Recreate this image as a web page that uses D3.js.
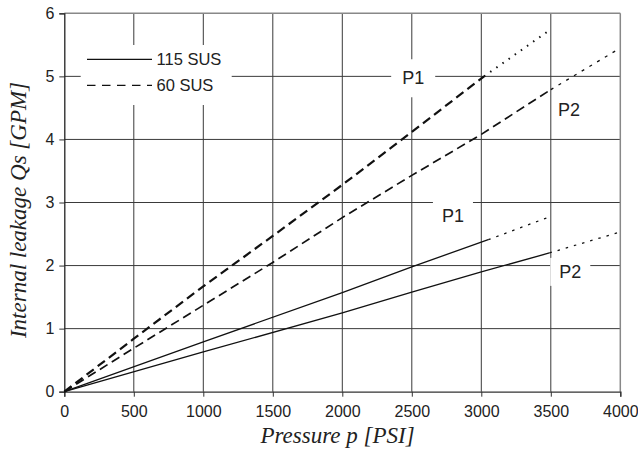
<!DOCTYPE html>
<html><head><meta charset="utf-8">
<script src="https://cdn.jsdelivr.net/npm/d3@7"></script>
<style>body{margin:0;background:#fff}</style>
</head><body>
<svg id="c" width="638" height="452"></svg>
<script>
// ---- data ----
const xTicks = [0,500,1000,1500,2000,2500,3000,3500,4000];
const yTicks = [0,1,2,3,4,5,6];
// 60 SUS, P1 (heavy dashed) and its dotted extension
const sus60P1 = [[0,0],[500,0.84],[1000,1.67],[1500,2.47],[2000,3.28],[2500,4.12],[3020,5.0]];
const sus60P1Ext = [[3020,5.0],[3490,5.73]];
// 60 SUS, P2
const sus60P2 = [[0,0],[500,0.69],[1000,1.37],[1500,2.05],[2000,2.76],[2500,3.43],[3000,4.08],[3500,4.79]];
const sus60P2Ext = [[3500,4.79],[4000,5.45]];
// 115 SUS, P1
const sus115P1 = [[0,0],[1000,0.79],[2000,1.57],[2500,1.98],[3050,2.41]];
const sus115P1Ext = [[3050,2.41],[3500,2.78]];
// 115 SUS, P2
const sus115P2 = [[0,0],[1000,0.63],[2000,1.25],[2500,1.58],[3000,1.9],[3490,2.2]];
const sus115P2Ext = [[3490,2.2],[3980,2.52]];
const legendLabels = ["115 SUS","60 SUS"];
const annotations = [
  {text:"P1", x:2510, y:4.97},
  {text:"P1", x:2796, y:2.79},
  {text:"P2", x:3631, y:4.47},
  {text:"P2", x:3640, y:1.9}
];
const xTitle = "Pressure p [PSI]";
const yTitle = "Internal leakage Qs [GPM]";

// ---- chart ----
const svg = d3.select("#c");
const L = 64.3, R = 620.3, T = 13.3, B = 391.7;
const x = d3.scaleLinear().domain([0,4000]).range([L,R]);
const y = d3.scaleLinear().domain([0,6]).range([B,T]);
const font = "'Liberation Sans', Arial, sans-serif";

// grid
const grid = svg.append("g");
grid.selectAll(".v").data(xTicks.slice(1,-1)).join("line")
  .attr("x1",d=>x(d)).attr("x2",d=>x(d)).attr("y1",T).attr("y2",B)
  .attr("stroke","#3a3a3a").attr("stroke-width",1);
grid.selectAll(".h").data(yTicks.slice(1,-1)).join("line")
  .attr("y1",d=>y(d)).attr("y2",d=>y(d)).attr("x1",L).attr("x2",R)
  .attr("stroke","#3a3a3a").attr("stroke-width",1);
// border (top, right) gray
svg.append("line").attr("x1",L).attr("x2",R).attr("y1",T).attr("y2",T).attr("stroke","#888").attr("stroke-width",1.5);
svg.append("line").attr("x1",R).attr("x2",R).attr("y1",T).attr("y2",B).attr("stroke","#888").attr("stroke-width",1.5);

// axes
const xa = svg.append("g").attr("transform",`translate(0,${B})`)
  .call(d3.axisBottom(x).tickValues(xTicks).tickSize(5).tickPadding(9).tickFormat(d3.format("d")));
const ya = svg.append("g").attr("transform",`translate(${L},0)`)
  .call(d3.axisLeft(y).tickValues(yTicks).tickSize(5).tickPadding(5).tickFormat(d3.format("d")));
[xa,ya].forEach(a=>{
  a.select(".domain").attr("stroke","#333").attr("stroke-width",1.3);
  a.selectAll(".tick line").attr("stroke","#333");
  a.selectAll("text").attr("font-family",font).attr("font-size",16).attr("fill","#222");
});
ya.select(".domain").attr("stroke","#222");

// white boxes (legend + labels) covering grid
const legendBox = svg.append("rect").attr("x",80.7).attr("y",45).attr("width",151).attr("height",60).attr("fill","#fff");
const annG = svg.append("g");
const pads = [[11,9],[9,5],[0,0],[9,4]];
annotations.forEach((a,i)=>{
  const t = annG.append("text").text(a.text).attr("x",x(a.x)).attr("y",y(a.y))
    .attr("text-anchor","middle").attr("dominant-baseline","central")
    .attr("font-family",font).attr("font-size",18).attr("fill","#222");
  const bb = t.node().getBBox();
  const [px,py] = pads[i];
  if(px>0) annG.insert("rect","text").attr("x",bb.x-px).attr("y",bb.y-py)
    .attr("width",bb.width+2*px).attr("height",bb.height+2*py).attr("fill","#fff");
});

// lines
const line = d3.line().x(d=>x(d[0])).y(d=>y(d[1]));
const series = [
  {d:sus60P1, w:2.2, dash:"9,5"},
  {d:sus60P1Ext, w:2, dash:"1.5,6"},
  {d:sus60P2, w:1.7, dash:"9,5"},
  {d:sus60P2Ext, w:1.3, dash:"3,6"},
  {d:sus115P1, w:1.3, dash:null},
  {d:sus115P1Ext, w:1.3, dash:"2.5,6"},
  {d:sus115P2, w:1.3, dash:null},
  {d:sus115P2Ext, w:1.3, dash:"2.5,6"}
];
svg.append("g").selectAll("path").data(series).join("path")
  .attr("d",s=>line(s.d)).attr("fill","none").attr("stroke","#111")
  .attr("stroke-width",s=>s.w).attr("stroke-dasharray",s=>s.dash);

// legend
const lg = svg.append("g");
legendLabels.forEach((lab,i)=>{
  const yy = 59.3 + i*26;
  lg.append("line").attr("x1",87).attr("x2",152).attr("y1",yy).attr("y2",yy)
    .attr("stroke","#111").attr("stroke-width",1.3).attr("stroke-dasharray",i===0?null:"8.5,6.5");
  lg.append("text").attr("x",156.5).attr("y",yy).attr("dominant-baseline","central")
    .attr("font-family",font).attr("font-size",16.5).attr("fill","#222").text(lab);
});

// axis titles
svg.append("text").attr("x",337.5).attr("y",443).attr("text-anchor","middle")
  .attr("font-family","'Liberation Serif','Times New Roman',serif").attr("font-style","italic")
  .attr("font-size",23).attr("fill","#222").text(xTitle);
svg.append("text").attr("transform","translate(26,210) rotate(-90)").attr("text-anchor","middle")
  .attr("font-family","'Liberation Serif','Times New Roman',serif").attr("font-style","italic")
  .attr("font-size",23).attr("fill","#222").text(yTitle);
</script>
</body></html>
